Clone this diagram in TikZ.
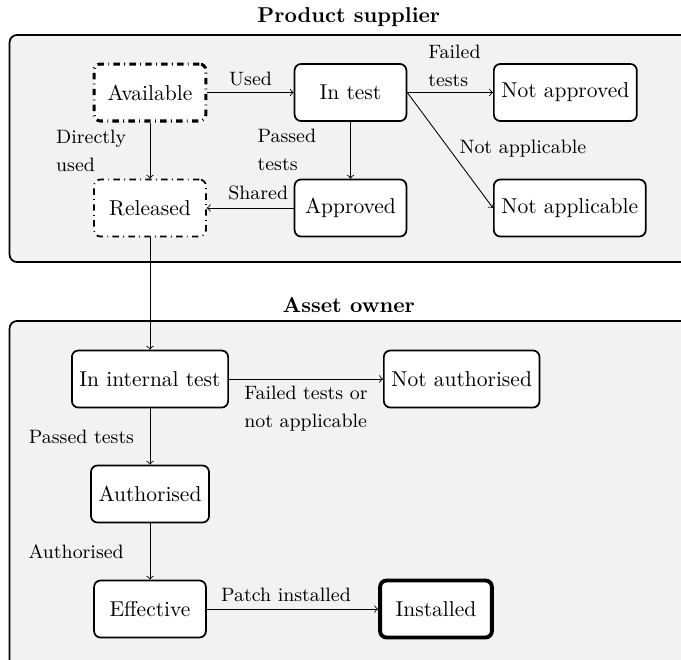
\documentclass[tikz,border=0pt]{standalone}
\begin{document}
\begin{tikzpicture}[x=0.465pt,y=-0.465pt,
  panel/.style={draw, thick, fill=black!5, rounded corners=3.5pt, inner sep=0pt,
                minimum width=315.5pt},
  panelttl/.style={font=\bfseries, inner sep=3.33pt},
  state/.style={draw, thick, fill=white, rounded corners=3pt,
                minimum width=52pt, minimum height=26.5pt, inner xsep=3.5pt},
  dashdot/.style={dash pattern=on 3pt off 2pt on 0.4pt off 2pt},
  startstate/.style={state, line width=1.4pt, dashdot},
  relstate/.style={state, dashdot},
  donestate/.style={state, line width=1.8pt},
  flow/.style={->, line width=0.4pt},
  lbl/.style={font=\fontsize{9}{13}\selectfont, inner sep=0pt, align=left},
]
\useasboundingbox (0,0) rectangle (681,659);
\clip (0,0) rectangle (681,659);

% the two swimlanes
\node[panel, minimum height=105.6pt,
      label={[panelttl, name=supttl]above:Product supplier}]
      (supplier) at (348.8,148.5) {};
\node[panel, minimum height=161.4pt,
      label={[panelttl, name=ownttl]above:Asset owner}]
      (owner) at (348.8,494.5) {};

% supplier states
\node[startstate] (avail) at (150,92.5) {Available};
\node[state] (intest) at (350.5,92.5) {In test};
\node[state, anchor=west] (notappr) at (493,92.5) {Not approved};
\node[relstate] (released) at (150,208) {Released};
\node[state] (approved) at (350.5,208) {Approved};
\node[state, anchor=west] (notappl) at (493,208) {Not applicable};

% asset owner states
\node[state] (intern) at (150,379) {In internal test};
\node[state, anchor=west] (notauth) at (383,379) {Not authorised};
\node[state] (authd) at (150,494) {Authorised};
\node[state] (effective) at (150,609) {Effective};
\node[donestate] (installed) at (436,609) {Installed};

% transitions
\draw[flow] (avail) -- node[lbl, yshift=6.5pt] (lused) {Used} (intest);
\draw[flow] (intest) -- node[lbl, xshift=2pt, yshift=12.5pt] (lfail) {Failed\\tests} (notappr);
\draw[flow] (intest.east) -- node[lbl, anchor=west, xshift=4.2pt, yshift=0.7pt] (lna) {Not applicable} (notappl.west);
\draw[flow] (avail) -- node[lbl, anchor=east, xshift=-10.9pt] (ldirect) {Directly\\used} (released);
\draw[flow] (intest) -- node[lbl, anchor=east, xshift=-15.8pt] (lpassed) {Passed\\tests} (approved);
\draw[flow] (approved) -- node[lbl, xshift=3.7pt, yshift=7pt] (lshared) {Shared} (released);
\draw[flow] (released) -- (intern);
\draw[flow] (intern) -- node[lbl, anchor=north, yshift=-3pt] (lfailna) {Failed tests or\\not applicable} (notauth);
\draw[flow] (intern) -- node[lbl, anchor=east, xshift=-7.2pt] (lpass2) {Passed tests} (authd);
\draw[flow] (authd) -- node[lbl, anchor=east, xshift=-12pt] (lauth) {Authorised} (effective);
\draw[flow] (effective) -- node[lbl, xshift=-3pt, yshift=6.5pt] (lpatch) {Patch installed} (installed);
\end{tikzpicture}
\end{document}
